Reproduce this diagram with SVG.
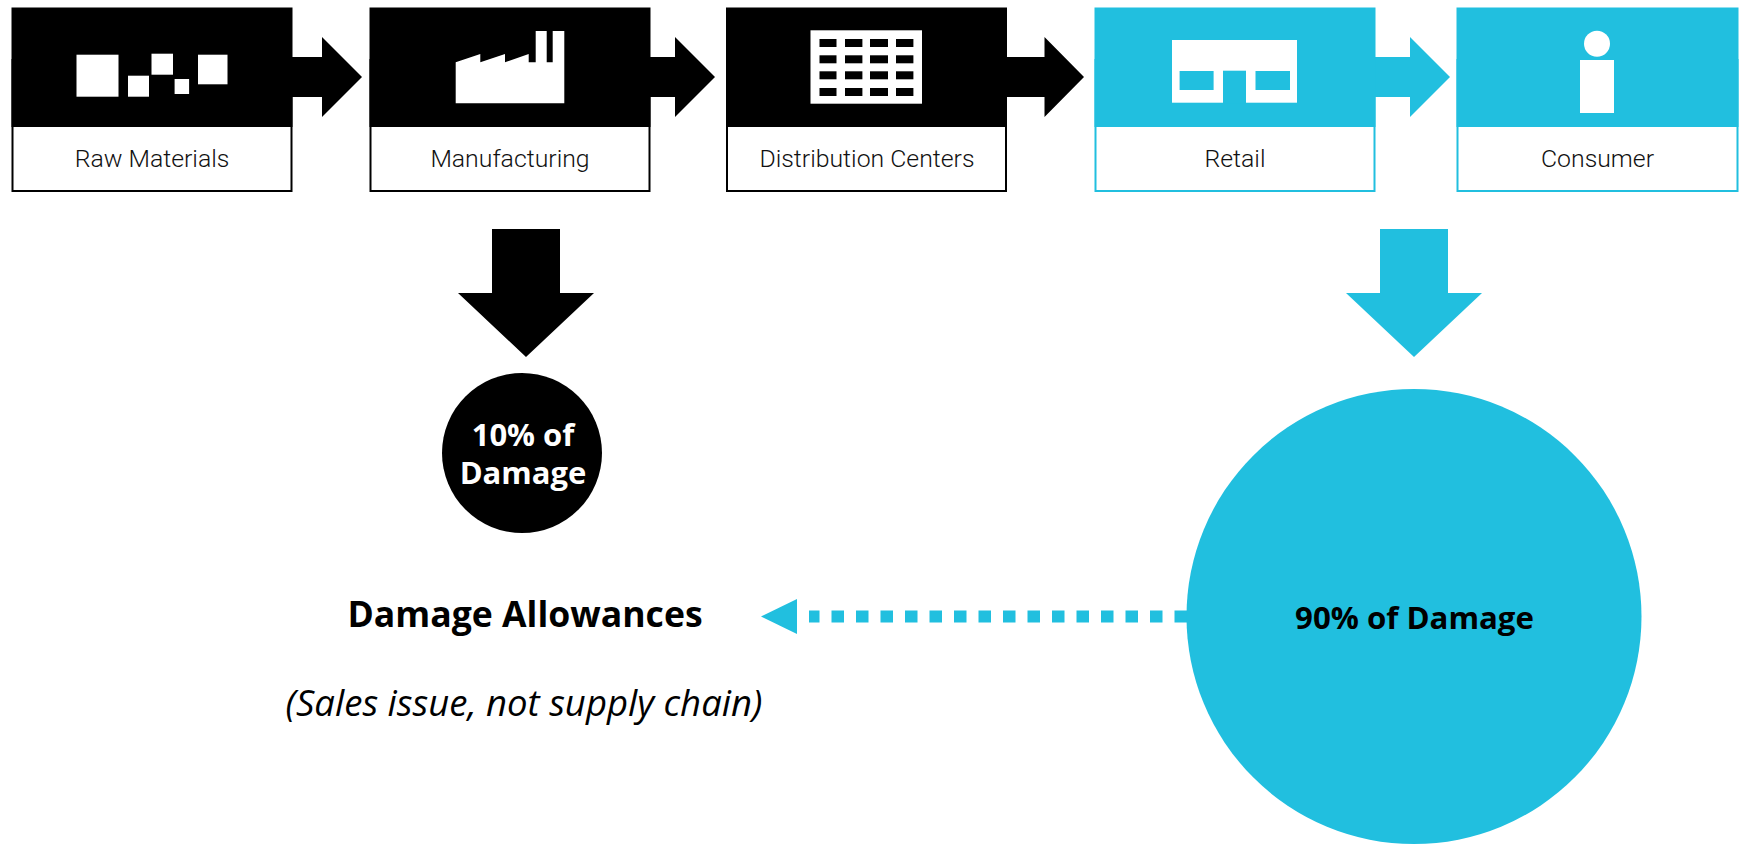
<svg xmlns="http://www.w3.org/2000/svg" width="1739" height="844" viewBox="0 0 1739 844">
<style>
.k{fill:#000}.c{fill:#21bfdf}.w{fill:#fff}
.box{fill:#fff;stroke-width:2}
.lbl{font-family:Roboto,"Liberation Sans",sans-serif;font-weight:300;font-size:24.8px;fill:#111;text-anchor:middle}
.b{font-family:"Open Sans","Noto Sans",sans-serif;font-weight:700;text-anchor:middle}
.i{font-family:"Open Sans","Noto Sans",sans-serif;font-style:italic;font-size:36.5px;fill:#000;text-anchor:middle}
</style>
<rect width="1739" height="844" fill="#fff"/>
<g id="connectors">
<polygon class="k" points="292,57 322,57 322,37 362,77 322,117 322,97 292,97"/>
<polygon class="k" points="650,57 675,57 675,37 715,77 675,117 675,97 650,97"/>
<polygon class="k" points="1006,57 1044.5,57 1044.5,37 1084,77 1044.5,117 1044.5,97 1006,97"/>
<polygon class="c" points="1375,57 1410,57 1410,37 1450,77 1410,117 1410,97 1375,97"/>
<polygon class="k" points="492,229 560,229 560,293 594,293 526,357 458,293 492,293"/>
<polygon class="c" points="1380,229 1448,229 1448,293 1482,293 1414,357 1346,293 1380,293"/>
<line x1="1187" y1="616.5" x2="809" y2="616.5" stroke="#21bfdf" stroke-width="12" stroke-dasharray="12.5 12"/>
<polygon class="c" points="797,599 761,616.5 797,634"/>
</g>
<g id="raw-materials">
<rect class="box" x="12.5" y="60" width="279" height="131" stroke="#000"/>
<rect class="k" x="11.5" y="7.5" width="281" height="119.5"/>
<rect class="w" x="76.5" y="54.7" width="42" height="42"/>
<rect class="w" x="128" y="75.7" width="21" height="21"/>
<rect class="w" x="151.5" y="53.7" width="21.5" height="21"/>
<rect class="w" x="174.6" y="79" width="14.5" height="15"/>
<rect class="w" x="198" y="54.7" width="29.5" height="29.6"/>
<text class="lbl" x="152" y="167">Raw Materials</text>
</g>
<g id="manufacturing">
<rect class="box" x="370.5" y="60" width="279" height="131" stroke="#000"/>
<rect class="k" x="369.5" y="7.5" width="281" height="119.5"/>
<polygon class="w" points="455.7,62.3 480.3,54 480.3,62.3 505,54 505,62.3 528.7,54 528.7,62.3 535.7,62.3 535.7,31 546.7,31 546.7,62.3 552.7,62.3 552.7,31 564.3,31 564.3,103.3 455.7,103.3"/>
<text class="lbl" x="510" y="167">Manufacturing</text>
</g>
<g id="distribution-centers">
<rect class="box" x="727" y="60" width="279" height="131" stroke="#000"/>
<rect class="k" x="726" y="7.5" width="281" height="119.5"/>
<rect class="w" x="810.5" y="30.3" width="111.5" height="73.4"/>
<g class="k">
<rect x="819.5" y="39" width="17" height="8"/><rect x="845" y="39" width="17.4" height="8"/><rect x="870" y="39" width="18" height="8"/><rect x="896" y="39" width="17.4" height="8"/>
<rect x="819.5" y="55.3" width="17" height="8"/><rect x="845" y="55.3" width="17.4" height="8"/><rect x="870" y="55.3" width="18" height="8"/><rect x="896" y="55.3" width="17.4" height="8"/>
<rect x="819.5" y="71.3" width="17" height="8"/><rect x="845" y="71.3" width="17.4" height="8"/><rect x="870" y="71.3" width="18" height="8"/><rect x="896" y="71.3" width="17.4" height="8"/>
<rect x="819.5" y="88" width="17" height="8"/><rect x="845" y="88" width="17.4" height="8"/><rect x="870" y="88" width="18" height="8"/><rect x="896" y="88" width="17.4" height="8"/>
</g>
<text class="lbl" x="867" y="167">Distribution Centers</text>
</g>
<g id="retail">
<rect class="box" x="1095.5" y="60" width="279" height="131" stroke="#21bfdf"/>
<rect class="c" x="1094.5" y="7.5" width="281" height="119.5"/>
<rect class="w" x="1172" y="40" width="125" height="62.7"/>
<rect class="c" x="1223" y="70.7" width="23" height="33"/>
<rect class="c" x="1179.6" y="71" width="34" height="19"/>
<rect class="c" x="1255.5" y="71" width="34.5" height="19"/>
<text class="lbl" x="1235" y="167">Retail</text>
</g>
<g id="consumer">
<rect class="box" x="1457.5" y="60" width="280" height="131" stroke="#21bfdf"/>
<rect class="c" x="1456.5" y="7.5" width="282" height="119.5"/>
<circle class="w" cx="1597" cy="43.7" r="13"/>
<rect class="w" x="1580" y="60" width="34" height="53"/>
<text class="lbl" x="1597.5" y="167">Consumer</text>
</g>
<g id="damage-10">
<circle class="k" cx="522" cy="453" r="80"/>
<text class="b" x="523" y="446" font-size="31" fill="#fff">10% of</text>
<text class="b" x="523" y="484" font-size="31" fill="#fff">Damage</text>
</g>
<g id="damage-90">
<circle class="c" cx="1414" cy="616.5" r="227.5"/>
<text class="b" x="1414.5" y="629" font-size="31.2" fill="#000">90% of Damage</text>
</g>
<g id="damage-allowances">
<text class="b" x="525" y="626.5" font-size="35.6" fill="#000">Damage Allowances</text>
<text class="i" x="524" y="716">(Sales issue, not supply chain)</text>
</g>
</svg>
